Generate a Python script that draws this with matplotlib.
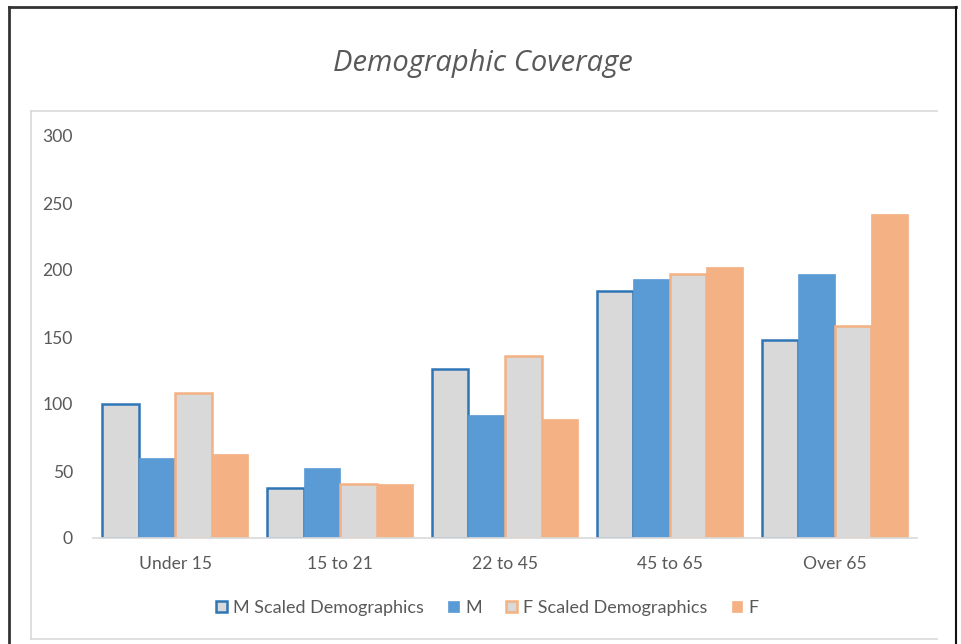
import matplotlib
matplotlib.use("Agg")
import matplotlib.pyplot as plt
import numpy as np
from matplotlib.lines import Line2D

categories = ["Under 15", "15 to 21", "22 to 45", "45 to 65", "Over 65"]
m_scaled = [100, 37, 126, 184, 148]
m_vals = [60, 52, 92, 193, 197]
f_scaled = [108, 40, 136, 197, 158]
f_vals = [63, 40, 89, 202, 242]
series_names = ["M Scaled Demographics", "M", "F Scaled Demographics", "F"]
yticks = [0, 50, 100, 150, 200, 250, 300]

text_col = "#595959"
blue = "#5B9BD5"
blue_edge = "#2E75B6"
orange = "#F4B183"
orange_edge = "#F4B183"
gray_fill = "#D9D9D9"

fig = plt.figure(figsize=(9.62, 6.44), dpi=100)
ax = fig.add_axes([93/962, 1-538/644, (917-93)/962, (538-136)/644])

x = np.arange(len(categories))
w = 0.2215
offs = [-1.5*w, -0.5*w, 0.5*w, 1.5*w]
b1 = ax.bar(x+offs[0], m_scaled, w, color=gray_fill, edgecolor=blue_edge, linewidth=1.8, label=series_names[0])
b2 = ax.bar(x+offs[1], m_vals, w, color=blue, edgecolor=blue, linewidth=0.5, label=series_names[1])
b3 = ax.bar(x+offs[2], f_scaled, w, color=gray_fill, edgecolor=orange_edge, linewidth=1.8, label=series_names[2])
b4 = ax.bar(x+offs[3], f_vals, w, color=orange, edgecolor=orange, linewidth=0.5, label=series_names[3])

ax.set_xlim(-0.5, len(categories)-0.5)
ax.set_ylim(0, 300)
ax.set_yticks(yticks)
ax.set_xticks(x)
ax.set_xticklabels(categories)
for s in ["top", "right", "left"]:
    ax.spines[s].set_visible(False)
ax.spines["bottom"].set_color("#D9D9D9")
ax.spines["bottom"].set_linewidth(1.2)
ax.tick_params(axis="both", length=0, colors=text_col, labelsize=12.6)
ax.tick_params(axis="y", pad=14.4)
ax.tick_params(axis="x", pad=13)
for lab in ax.get_xticklabels() + ax.get_yticklabels():
    lab.set_fontfamily(["Lato", "DejaVu Sans"])

fig.text(483/962, 1-63/644, "Demographic Coverage", ha="center", va="center",
         fontsize=21, style="italic", color=text_col, family=["Open Sans", "DejaVu Sans"])

# outer border and plot-area border
fig.add_artist(Line2D([9/962, 9/962], [0, 1-7/644], color="#333333", lw=2, transform=fig.transFigure))
fig.add_artist(Line2D([9/962, 956/962], [1-7/644, 1-7/644], color="#333333", lw=2, transform=fig.transFigure))
fig.add_artist(Line2D([956/962, 956/962], [0, 1-7/644], color="#111111", lw=1.5, transform=fig.transFigure))
fig.add_artist(Line2D([31/962, 31/962], [1-639/644, 1-111/644], color="#D9D9D9", lw=1.2, transform=fig.transFigure))
fig.add_artist(Line2D([31/962, 937/962], [1-111/644, 1-111/644], color="#D9D9D9", lw=1.2, transform=fig.transFigure))
fig.add_artist(Line2D([31/962, 937/962], [1-639/644, 1-639/644], color="#D9D9D9", lw=1.2, transform=fig.transFigure))

leg = fig.legend(handles=[b1, b2, b3, b4], labels=series_names, loc="center",
                 bbox_to_anchor=(487.5/962, 1-608/644), ncol=4, frameon=False,
                 handlelength=0.58, handleheight=0.58, handletextpad=0.35,
                 columnspacing=1.35, prop={"family": ["Lato", "DejaVu Sans"], "size": 13})
for t in leg.get_texts():
    t.set_color(text_col)

fig.savefig("out.png", dpi=100)
